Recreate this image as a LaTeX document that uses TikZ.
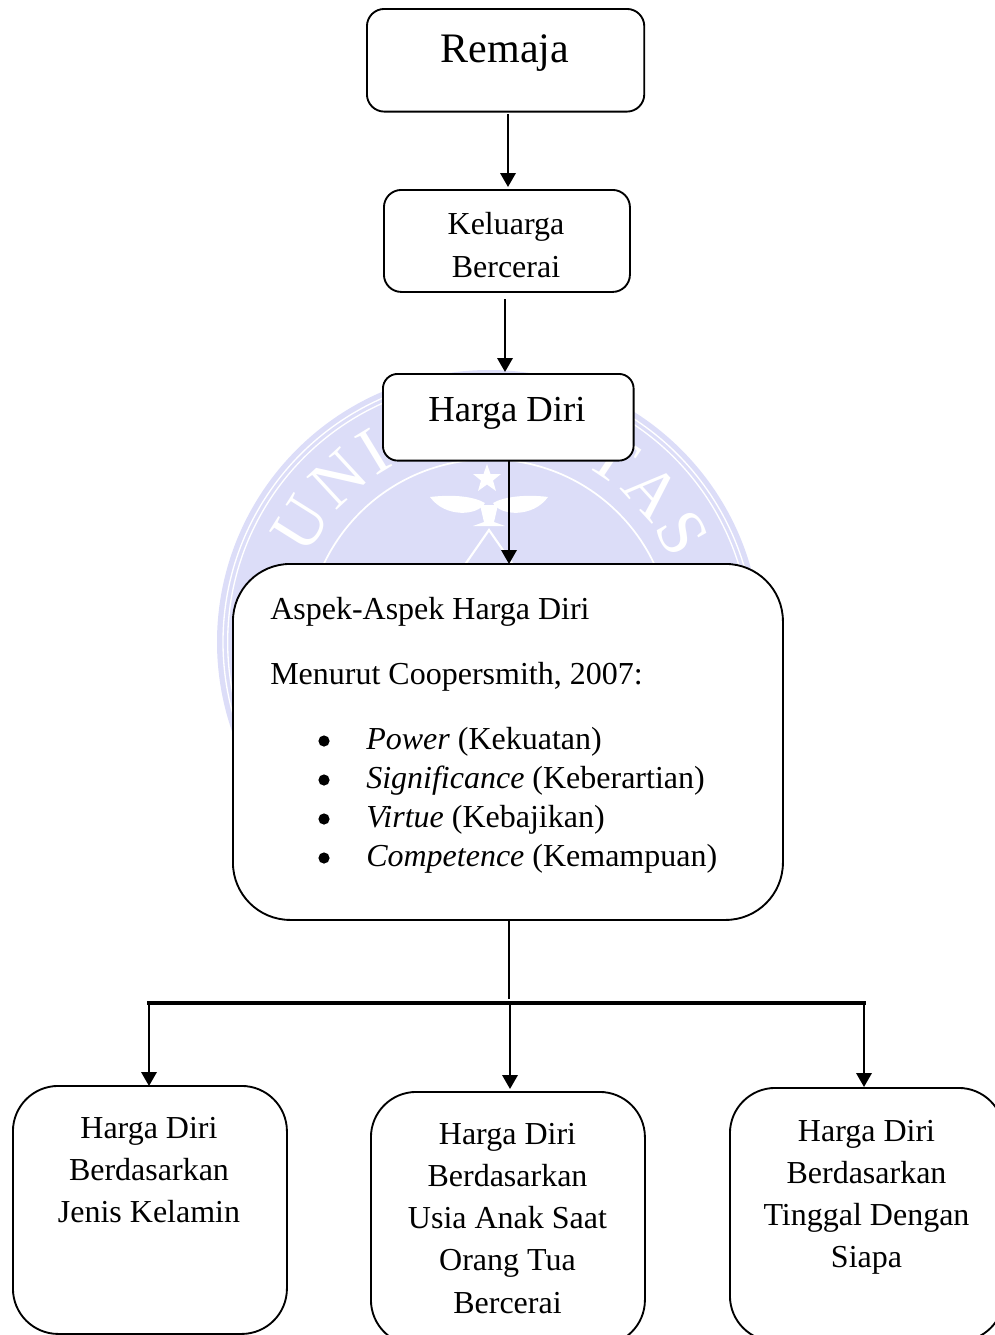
\documentclass[tikz,border=0pt]{standalone}
\usepackage{fontspec}
\setmainfont{Liberation Serif}
\usetikzlibrary{arrows.meta,decorations.text}
\definecolor{wm}{HTML}{DCDDF8}
\newcommand{\fs}[2]{\fontsize{#1}{#2}\selectfont}
\tikzset{
  x=0.75pt,y=-0.75pt,
  box/.style={draw=black,line width=1.4pt,fill=white,rounded corners=#1,inner sep=0pt,anchor=north west},
  box/.default=13pt,
  txt/.style={align=center,inner sep=0pt,font=\fs{24}{31.6}},
  lnk/.style={line width=1.8pt,-{Triangle[length=10.5pt,width=11.5pt]}},
  plain/.style={line width=1.1pt},
  bus/.style={line width=2.3pt},
  wmline/.style={white,line width=1pt}
}
\begin{document}
\begin{tikzpicture}
\useasboundingbox (0,0) rectangle (995,1335);
% watermark
\coordinate (wc) at (489,642);
\fill[wm] (wc) circle[radius=204pt];
\draw[wmline] (wc) circle[radius=199.5pt];
\draw[wmline] (wc) circle[radius=196pt];
\draw[white,line width=1.3pt] (wc) circle[radius=137pt];
\path[decorate,decoration={text along path,text align={fit to path},
  text={|\fs{51}{51}\color{white}|UNI}}]
  (wc) ++(155:150pt) arc[start angle=155,end angle=118,radius=150pt];
\path[decorate,decoration={text along path,text align={fit to path},
  text={|\fs{51}{51}\color{white}|TAS}}]
  (wc) ++(62:150pt) arc[start angle=62,end angle=24,radius=150pt];
% emblem
\fill[white] (487,464) -- (490.5,474) -- (501,474) -- (493,480.5) -- (496,491) -- (487,484.5) -- (478,491) -- (481,480.5) -- (473,474) -- (483.5,474) -- cycle;
\fill[white] (430,497) .. controls (455,494) and (475,497) .. (485,503) .. controls (478,516) and (445,518) .. (430,497) -- cycle;
\fill[white] (548,497) .. controls (525,494) and (503,497) .. (493,503) .. controls (500,516) and (533,518) .. (548,497) -- cycle;
\fill[white] (480,505) -- (498,505) -- (494,522) -- (505,526) -- (473,526) -- (484,522) -- cycle;
\draw[white,line width=1.6pt] (464,566) -- (489,530) -- (514,566);
% boxes
\node[box=13pt,minimum width=208pt,minimum height=77pt] (remaja) at (366,8) {};
\node[box=13pt,minimum width=184.5pt,minimum height=76.5pt] (kel) at (383,189) {};
\node[box=11pt,minimum width=188pt,minimum height=65pt] (harga) at (382,373) {};
\node[box=43pt,minimum width=412.5pt,minimum height=267pt] (aspek) at (232,563) {};
\node[box=34pt,minimum width=205.5pt,minimum height=186pt] (b1) at (12,1085) {};
\node[box=34pt,minimum width=205.5pt,minimum height=190pt] (b2) at (370,1091) {};
\node[box=34pt,minimum width=205.5pt,minimum height=190pt] (b3) at (729,1087) {};
% text
\node[txt,font=\fs{31.5}{36}] (t0) at (505,53) {Remaja};
\node[txt] (t1) at (506,245) {Keluarga\\Bercerai};
\node[txt,font=\fs{27.5}{32}] (t2) at (507,413) {Harga Diri};
\node[txt,anchor=west] (t3) at (270,612) {Aspek-Aspek Harga Diri};
\node[txt,anchor=west] (t4) at (270,677) {Menurut Coopersmith, 2007:};
\node[txt,anchor=west] (l1) at (366,742) {\textit{Power} (Kekuatan)};
\node[txt,anchor=west] (l2) at (366,781) {\textit{Significance} (Keberartian)};
\node[txt,anchor=west] (l3) at (366,820) {\textit{Virtue} (Kebajikan)};
\node[txt,anchor=west] (l4) at (366,859) {\textit{Competence} (Kemampuan)};
\foreach \n/\yy in {d1/741,d2/780,d3/819,d4/858}{\fill (324,\yy) circle[radius=4.2pt];\coordinate (\n) at (324,\yy);}
\node[txt,anchor=north] (t5) at (149,1117) {Harga Diri\\Berdasarkan\\Jenis Kelamin};
\node[txt,anchor=north] (t6) at (507.5,1123) {Harga Diri\\Berdasarkan\\Usia Anak Saat\\Orang Tua\\Bercerai};
\node[txt,anchor=north] (t7) at (866.5,1120) {Harga Diri\\Berdasarkan\\Tinggal Dengan\\Siapa};
% connectors
\coordinate (a0) at (508,114);\coordinate (a1) at (508,187);
\draw[lnk] (a0) -- (a1);
\coordinate (c0) at (505,299);\coordinate (c1) at (505,372);
\draw[lnk] (c0) -- (c1);
\coordinate (e0) at (509,460);\coordinate (e1) at (509,564);
\draw[lnk] (e0) -- (e1);
\coordinate (f0) at (509,919);\coordinate (f1) at (509,999);
\draw[plain] (f0) -- (f1);
\coordinate (g0) at (149,1003);\coordinate (g1) at (864,1003);
\draw[bus,line cap=rect] (g0) -- (g1);
\coordinate (h1) at (149,1086);\coordinate (h2) at (510,1089);\coordinate (h3) at (864,1087);\coordinate (h0) at (510,1005);
\draw[lnk] (g0) -- (h1);
\draw[lnk] (h0) -- (h2);
\draw[lnk] (g1) -- (h3);
\end{tikzpicture}
\end{document}
